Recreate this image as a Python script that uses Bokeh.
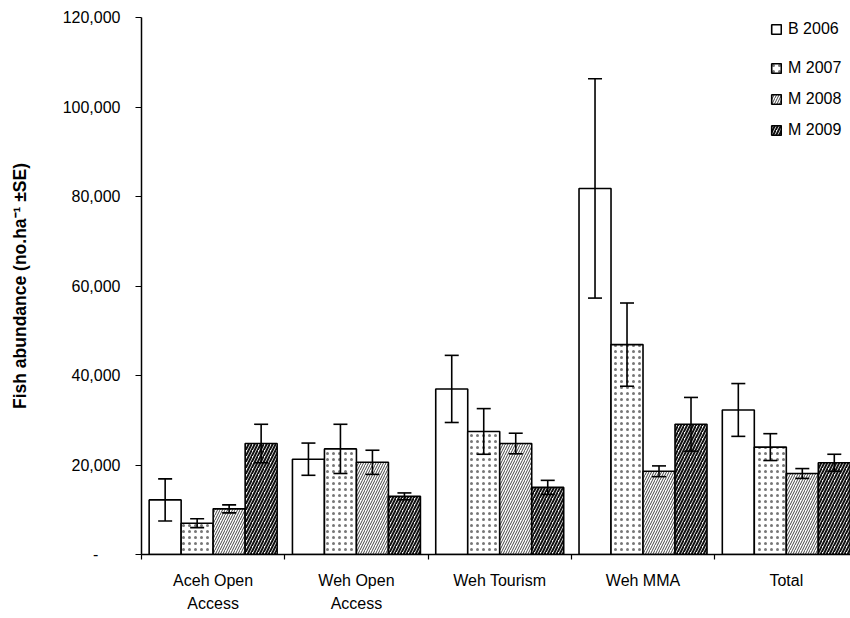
from bokeh.plotting import figure
from bokeh.models import (ColumnDataSource, Whisker, TeeHead, FixedTicker, Legend,
                          LegendItem, Range1d)
from bokeh.embed import file_html
from bokeh.resources import INLINE

sites = ["Aceh Open\nAccess", "Weh Open\nAccess", "Weh Tourism", "Weh MMA", "Total"]
years = ["B 2006", "M 2007", "M 2008", "M 2009"]

b2006 = [12200, 21300, 37000, 81800, 32300]
b2006_se = [4700, 3600, 7500, 24500, 5900]
m2007 = [7000, 23600, 27500, 46900, 24000]
m2007_se = [1000, 5500, 5100, 9300, 3000]
m2008 = [10200, 20600, 24800, 18600, 18100]
m2008_se = [900, 2700, 2300, 1200, 1100]
m2009 = [24800, 13000, 15000, 29100, 20500]
m2009_se = [4300, 760, 1570, 6000, 1900]

y_ticks = [0, 20000, 40000, 60000, 80000, 100000, 120000]
y_tick_labels = ["-", "20,000", "40,000", "60,000", "80,000", "100,000", "120,000"]

series = [b2006, m2007, m2008, m2009]
errors = [b2006_se, m2007_se, m2008_se, m2009_se]

FONT = "Liberation Sans"
bar_w = 0.2233
offsets = [-1.5 * bar_w, -0.5 * bar_w, 0.5 * bar_w, 1.5 * bar_w]
styles = [
    dict(),
    dict(hatch_pattern="dot", hatch_color="#777777", hatch_scale=6, hatch_weight=1.6),
    dict(hatch_pattern="right_diagonal_line", hatch_color="#444444", hatch_scale=5, hatch_weight=1.0),
    dict(hatch_pattern="right_diagonal_line", hatch_color="#111111", hatch_scale=6, hatch_weight=2.0),
]

p = figure(width=850, height=618, x_range=Range1d(0, 4.948), y_range=Range1d(0, 120000),
           output_backend="svg", toolbar_location=None,
           min_border_left=141, min_border_right=0, min_border_top=17, min_border_bottom=64)
p.xgrid.visible = False
p.ygrid.visible = False
p.outline_line_color = None
p.background_fill_color = "white"

renderers = []
for k in range(4):
    xs = [i + 0.5 + offsets[k] for i in range(len(sites))]
    src = ColumnDataSource(dict(x=xs, top=series[k],
                                upper=[v + e for v, e in zip(series[k], errors[k])],
                                lower=[v - e for v, e in zip(series[k], errors[k])]))
    r = p.vbar(x="x", top="top", width=bar_w, bottom=0, source=src, fill_color="white",
               line_color="black", line_width=1.6, **styles[k])
    renderers.append(r)
    w = Whisker(source=src, base="x", upper="upper", lower="lower", line_color="black",
                line_width=1.6, level="overlay",
                upper_head=TeeHead(size=14, line_width=1.6, line_color="black"),
                lower_head=TeeHead(size=14, line_width=1.6, line_color="black"))
    p.add_layout(w)

# y axis
p.yaxis.ticker = FixedTicker(ticks=y_ticks, minor_ticks=[])
p.yaxis.major_label_overrides = {t: (lab if t != 0 else "-\u00a0\u00a0\u00a0\u00a0\u00a0")
                                 for t, lab in zip(y_ticks, y_tick_labels)}
p.yaxis.major_tick_out = 6
p.yaxis.major_tick_in = 0
p.yaxis.major_label_standoff = 15
p.yaxis.axis_label = "Fish abundance (no.ha\u207b\u00b9 \u00b1SE)"
p.yaxis.axis_label_text_font = FONT
p.yaxis.axis_label_text_font_style = "bold"
p.yaxis.axis_label_text_font_size = "17.5px"
p.yaxis.axis_label_standoff = 30
p.yaxis.axis_label_text_color = "black"

# x axis
centers = [i + 0.5 for i in range(len(sites))]
p.xaxis.ticker = FixedTicker(ticks=centers, minor_ticks=list(range(len(sites) + 1)))
p.xaxis.major_label_overrides = {c: s for c, s in zip(centers, sites)}
p.xaxis.major_tick_out = 0
p.xaxis.major_tick_in = 0
p.xaxis.minor_tick_out = 5
p.xaxis.minor_tick_in = 0
p.xaxis.major_label_standoff = 12
p.xaxis.major_label_text_line_height = 1.4

for ax in (p.xaxis, p.yaxis):
    ax.axis_line_color = "black"
    ax.axis_line_width = 1.5
    ax.major_tick_line_color = "black"
    ax.minor_tick_line_color = "black"
    ax.major_tick_line_width = 1.2
    ax.minor_tick_line_width = 1.2
    ax.major_label_text_font = FONT
    ax.major_label_text_font_size = "16px"
    ax.major_label_text_color = "black"

leg1 = Legend(items=[LegendItem(label=years[0], renderers=[renderers[0]])],
              location=(629, 516), orientation="vertical")
leg2 = Legend(items=[LegendItem(label=years[k], renderers=[renderers[k]]) for k in range(1, 4)],
              location=(629, 415), orientation="vertical")
for lg in (leg1, leg2):
    lg.border_line_color = None
    lg.background_fill_alpha = 0
    lg.padding = 0
    lg.margin = 0
    lg.spacing = 13
    lg.glyph_width = 12
    lg.glyph_height = 12
    lg.label_height = 16
    lg.label_standoff = 6
    lg.label_text_font = FONT
    lg.label_text_font_size = "16px"
    lg.label_text_color = "black"
    p.add_layout(lg, "center")

open("out.html", "w").write(file_html(p, INLINE))
